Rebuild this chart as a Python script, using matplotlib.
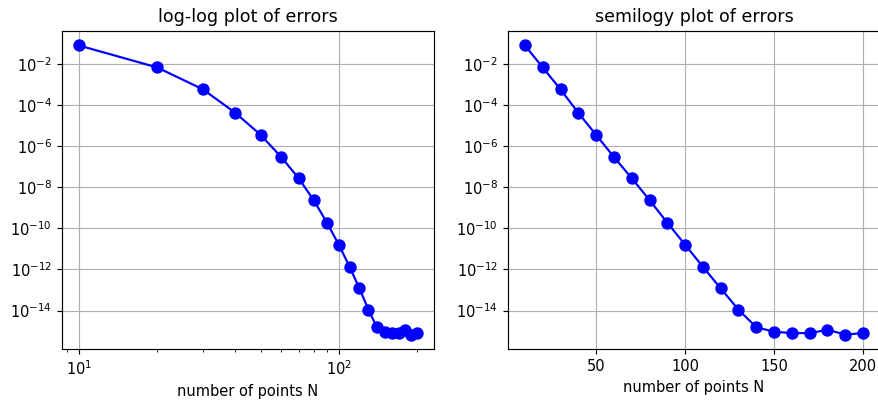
import matplotlib
matplotlib.use("Agg")
import matplotlib.pyplot as plt
from matplotlib.ticker import MultipleLocator

# number of points and the measured errors
N = [10, 20, 30, 40, 50, 60, 70, 80, 90, 100,
     110, 120, 130, 140, 150, 160, 170, 180, 190, 200]
errors = [8.1e-2, 6.9e-3, 5.9e-4, 4.2e-5, 3.6e-6, 3.0e-7, 2.8e-8, 2.4e-9, 1.9e-10, 1.6e-11,
          1.35e-12, 1.2e-13, 1.1e-14, 1.55e-15, 9.3e-16, 8.0e-16, 8.0e-16, 1.15e-15, 6.8e-16, 8.0e-16]

DPI = 105
W, H = 878, 400


def plot_errors():
    fig = plt.figure(figsize=(W / DPI, H / DPI), dpi=DPI)
    ax1 = fig.add_axes([62 / W, 1 - 349 / H, (434 - 62) / W, (349 - 31) / H])
    ax2 = fig.add_axes([508 / W, 1 - 349 / H, (880 - 508) / W, (349 - 31) / H])

    ax1.loglog(N, errors, "b-o", markersize=7.5)
    ax1.set_title("log-log plot of errors")
    ax1.set_xlabel("number of points N")
    ax1.grid(True)

    ax2.semilogy(N, errors, "b-o", markersize=7.5)
    ax2.set_title("semilogy plot of errors")
    ax2.set_xlabel("number of points N")
    ax2.xaxis.set_major_locator(MultipleLocator(50))
    ax2.grid(True)

    fig.savefig("out.png", dpi=DPI)


if __name__ == "__main__":
    plot_errors()
